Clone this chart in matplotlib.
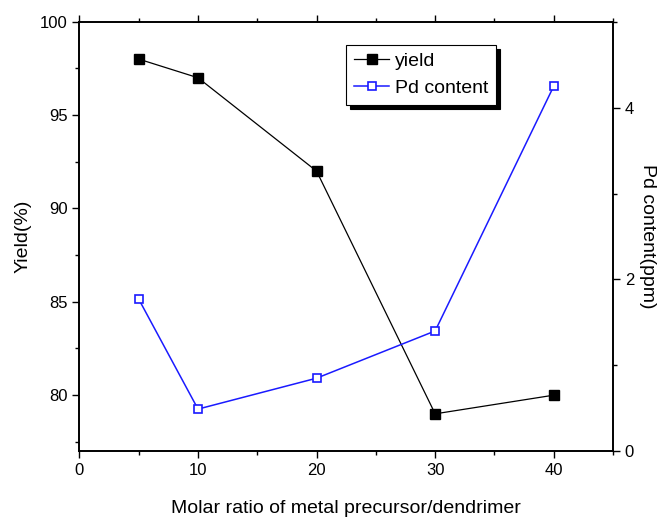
import matplotlib
matplotlib.use("Agg")
import matplotlib.pyplot as plt
from matplotlib.ticker import MultipleLocator

plt.rcParams['font.family'] = ['Liberation Sans', 'DejaVu Sans']

ratio = [5, 10, 20, 30, 40]
yield_pct = [98, 97, 92, 79, 80]
pd_content = [1.77, 0.49, 0.85, 1.40, 4.25]

fig = plt.figure(figsize=(6.62, 5.18), dpi=100)
ax = fig.add_axes([0.120, 0.129, 0.806, 0.829])
ax2 = ax.twinx()

l1, = ax.plot(ratio, yield_pct, color='black', lw=0.9, marker='s', ms=6.5,
              mfc='black', mec='black', label='yield')
l2, = ax2.plot(ratio, pd_content, color='#1a1aff', lw=1.1, marker='s', ms=6,
               mfc='white', mec='#1a1aff', mew=1.2, label='Pd content')

ax.set_xlim(0, 45)
ax.set_ylim(77, 100)
ax2.set_ylim(0, 5)

ax.xaxis.set_major_locator(MultipleLocator(10))
ax.xaxis.set_minor_locator(MultipleLocator(5))
ax.yaxis.set_major_locator(MultipleLocator(5))
ax.yaxis.set_minor_locator(MultipleLocator(2.5))
ax2.yaxis.set_major_locator(MultipleLocator(2))
ax2.yaxis.set_minor_locator(MultipleLocator(1))

ax.tick_params(axis='both', which='major', direction='out', length=5, width=1,
               labelsize=12, top=True, labeltop=False)
ax.tick_params(axis='both', which='minor', direction='out', length=3, width=1,
               top=True)
ax2.tick_params(axis='y', which='major', direction='out', length=5, width=1, labelsize=12)
ax2.tick_params(axis='y', which='minor', direction='out', length=3, width=1)

for a in (ax, ax2):
    for s in a.spines.values():
        s.set_linewidth(1.2)

ax.set_xlabel('Molar ratio of metal precursor/dendrimer', fontsize=14, labelpad=16)
ax.set_ylabel('Yield(%)', fontsize=14, labelpad=6)
ax2.set_ylabel('Pd content(ppm)', fontsize=14, rotation=270, labelpad=16)

leg = ax.legend([l1, l2], ['yield', 'Pd content'], loc='upper left',
                bbox_to_anchor=(0.50, 0.947), borderaxespad=0, fontsize=14,
                fancybox=False, edgecolor='black', framealpha=1,
                shadow={'color': 'black', 'alpha': 1, 'ox': 3, 'oy': -3},
                handlelength=1.8, handletextpad=0.3, borderpad=0.4,
                labelspacing=0.5)
leg.get_frame().set_linewidth(0.8)
leg.set_zorder(10)

fig.savefig('out.png', dpi=100)
